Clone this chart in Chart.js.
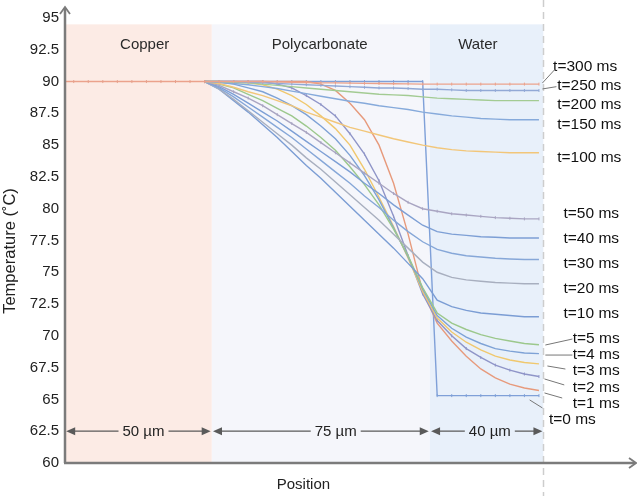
<!DOCTYPE html>
<html>
<head>
<meta charset="utf-8">
<script src="https://cdn.jsdelivr.net/npm/chart.js@4.4.1/dist/chart.umd.min.js"></script>
<style>
html, body { margin: 0; padding: 0; background: #fff; }
</style>
</head>
<body>
<canvas id="profile" width="637" height="496"></canvas>
<script>
// positions in µm (shared by every time step), copper part is flat
const positions = [45, 50, 55, 60, 65, 70, 75, 80, 85, 90, 95, 100, 105, 110, 115, 120, 125, 130, 135, 140, 145, 150, 155, 160];
const copperPositions = [-3, 0, 5, 10, 15, 20, 25, 30, 35, 40, 45];
const copperTemp = [90, 90, 90, 90, 90, 90, 90, 90, 90, 90, 90];

// temperature (°C)
const temp0ms   = [90, 90, 90, 90, 90, 90, 90, 90, 90, 90, 90, 90, 90, 90, 90, 90, 65.3, 65.3, 65.3, 65.3, 65.3, 65.3, 65.3, 65.3];
const temp1ms   = [90, 90, 90, 90, 90, 90, 90, 90, 89.8, 89.3, 88.3, 87.0, 85.0, 82.0, 78.0, 73.5, 71.0, 69.6, 68.4, 67.4, 66.7, 66.2, 65.9, 65.7];
const temp2ms   = [90, 90, 90, 90, 90, 89.8, 89.5, 88.9, 88.2, 87.3, 85.9, 84.3, 82.2, 79.4, 76.3, 73.3, 71.2, 70.0, 69.0, 68.3, 67.7, 67.3, 67.0, 66.8];
const temp3ms   = [90, 90, 89.95, 89.9, 89.75, 89.4, 88.9, 88.2, 87.3, 86.3, 85.0, 83.1, 80.9, 78.6, 76.1, 73.5, 71.4, 70.3, 69.5, 68.9, 68.4, 68.1, 67.9, 67.8];
const temp4ms   = [90, 89.95, 89.8, 89.5, 89.2, 88.7, 88.1, 87.4, 86.5, 85.5, 84.2, 82.6, 80.7, 78.5, 76.2, 73.7, 71.6, 70.6, 69.9, 69.4, 69.0, 68.8, 68.65, 68.6];
const temp5ms   = [90, 89.8, 89.5, 89.0, 88.5, 87.9, 87.3, 86.5, 85.6, 84.6, 83.3, 81.9, 80.3, 78.4, 76.3, 73.8, 71.8, 71.0, 70.5, 70.1, 69.8, 69.6, 69.4, 69.3];
const temp10ms  = [90, 89.4, 88.5, 87.6, 86.6, 85.6, 84.5, 83.4, 82.4, 81.3, 80.2, 79.1, 78.0, 76.9, 75.7, 74.5, 72.8, 72.3, 72.0, 71.8, 71.7, 71.6, 71.5, 71.5];
const temp20ms  = [90, 89.4, 88.6, 87.7, 86.8, 85.9, 85.0, 84.0, 83.1, 82.1, 81.1, 80.1, 79.1, 78.0, 76.9, 75.8, 75.0, 74.6, 74.4, 74.3, 74.2, 74.15, 74.1, 74.1];
const temp30ms  = [90, 89.5, 88.8, 88.0, 87.2, 86.4, 85.6, 84.7, 83.8, 82.9, 82.0, 81.0, 80.1, 79.1, 78.2, 77.4, 76.8, 76.5, 76.3, 76.2, 76.1, 76.05, 76.0, 76.0];
const temp40ms  = [90, 89.6, 89.0, 88.3, 87.6, 86.9, 86.1, 85.3, 84.5, 83.7, 82.9, 82.0, 81.2, 80.3, 79.5, 78.7, 78.2, 78.0, 77.9, 77.8, 77.75, 77.7, 77.7, 77.7];
const temp50ms  = [90, 89.7, 89.2, 88.7, 88.1, 87.4, 86.7, 86.0, 85.2, 84.4, 83.6, 82.8, 82.0, 81.2, 80.5, 80.0, 79.8, 79.6, 79.5, 79.4, 79.3, 79.25, 79.2, 79.2];
const temp100ms = [90, 89.85, 89.55, 89.2, 88.9, 88.5, 88.1, 87.6, 87.2, 86.8, 86.4, 86.1, 85.8, 85.5, 85.25, 85.0, 84.8, 84.65, 84.55, 84.5, 84.45, 84.4, 84.4, 84.4];
const temp150ms = [90, 89.95, 89.85, 89.75, 89.6, 89.45, 89.25, 89.05, 88.85, 88.65, 88.45, 88.3, 88.1, 87.95, 87.8, 87.6, 87.45, 87.3, 87.2, 87.1, 87.05, 87.0, 87.0, 87.0];
const temp200ms = [90, 90, 89.95, 89.9, 89.8, 89.7, 89.6, 89.5, 89.4, 89.3, 89.2, 89.1, 89.0, 88.95, 88.9, 88.8, 88.7, 88.65, 88.6, 88.55, 88.5, 88.5, 88.5, 88.5];
const temp250ms = [90, 90, 90, 89.95, 89.9, 89.85, 89.8, 89.75, 89.7, 89.65, 89.6, 89.55, 89.5, 89.5, 89.45, 89.4, 89.4, 89.35, 89.3, 89.3, 89.3, 89.3, 89.3, 89.3];
const temp300ms = [90, 90, 90, 90, 90, 89.98, 89.95, 89.93, 89.9, 89.9, 89.88, 89.86, 89.85, 89.83, 89.82, 89.8, 89.8, 89.8, 89.8, 89.8, 89.8, 89.8, 89.8, 89.8];

const timeLabels = ['t=300 ms', 't=250 ms', 't=200 ms', 't=150 ms', 't=100 ms', 't=50 ms', 't=40 ms', 't=30 ms',
    't=20 ms', 't=10 ms', 't=5 ms', 't=4 ms', 't=3 ms', 't=2 ms', 't=1 ms', 't=0 ms'];
const yTicks = [60, 62.5, 65, 67.5, 70, 72.5, 75, 77.5, 80, 82.5, 85, 87.5, 90, 92.5, 95];

const regionNames = ['Copper', 'Polycarbonate', 'Water'];
const regionStart = [-3, 47.5, 122.5];
const regionEnd = [47.5, 122.5, 161.5];
const dimLabels = ['50 µm', '75 µm', '40 µm'];

// layout of the annotations (data units)
const regionLabelX = [24.4, 84.6, 139];
const regionColors = ['#fcebe5', '#f5f6fb', '#e8f0fa'];
const dimStart = [-2.6, 47.9, 122.9];
const dimEnd = [47.1, 122.1, 161.2];
const dimLabelX = [24, 90.1, 143.1];
const labelX = [175.9, 177.3, 177.3, 177.3, 177.3, 178, 178, 178, 178, 178, 179.7, 179.7, 179.7, 179.7, 179.7, 171.5];
const labelY = [91.17, 89.68, 88.16, 86.58, 84.04, 79.58, 77.62, 75.65, 73.68, 71.77, 69.81, 68.5, 67.26, 65.96, 64.64, 63.38];
const leaders = {
    't=300 ms': [161.2, 89.89, 165.3, 90.91],
    't=250 ms': [161.2, 89.42, 166.0, 89.6],
    't=5 ms': [162.2, 69.28, 171.5, 69.75],
    't=4 ms': [162.2, 68.49, 171.5, 68.49],
    't=3 ms': [162.9, 67.63, 169.1, 67.39],
    't=2 ms': [161.9, 66.61, 168.7, 66.14],
    't=1 ms': [161.9, 65.51, 168.0, 65.11],
    't=0 ms': [156.8, 64.96, 161.2, 64.33],
};

const FONT = "'Liberation Sans', Arial, sans-serif";

const series = [
    {values: temp300ms, color: '#eba28c', marks: true},
    {values: temp250ms, color: '#92a9d6', marks: true},
    {values: temp200ms, color: '#a3cb93'},
    {values: temp150ms, color: '#86aadb'},
    {values: temp100ms, color: '#f2c679'},
    {values: temp50ms, color: '#a9a5c2', marks: true},
    {values: temp40ms, color: '#7d9fd5'},
    {values: temp30ms, color: '#86a7d8'},
    {values: temp20ms, color: '#a8afbf'},
    {values: temp10ms, color: '#7b9dd4'},
    {values: temp5ms, color: '#9cc88c'},
    {values: temp4ms, color: '#7ea2d6'},
    {values: temp3ms, color: '#f0c86e'},
    {values: temp2ms, color: '#8f95c8', marks: true},
    {values: temp1ms, color: '#e79a7c'},
    {values: temp0ms, color: '#7fa0d8', marks: true},
];

const datasets = series.map((s, i) => ({
    label: timeLabels[i],
    data: positions.map((p, k) => ({x: p, y: s.values[k]})),
    borderColor: s.color,
    borderWidth: 1.4,
    pointRadius: s.marks ? 1.5 : 0,
    pointStyle: 'line',
    rotation: 90,
    pointBorderColor: s.color,
    pointBorderWidth: 1,
    tension: 0,
}));
datasets.unshift({
    label: 'copper',
    data: copperPositions.map((p, k) => ({x: p, y: copperTemp[k]})),
    borderColor: '#eba28c',
    borderWidth: 1.4,
    pointRadius: 1.5,
    pointStyle: 'line',
    rotation: 90,
    pointBorderColor: '#e6a08c',
    pointBorderWidth: 1,
});

function arrowHead(ctx, x, y, dx, dy, len, half) {
    ctx.beginPath();
    ctx.moveTo(x, y);
    ctx.lineTo(x - dx * len - dy * half, y - dy * len + dx * half);
    ctx.lineTo(x - dx * len + dy * half, y - dy * len - dx * half);
    ctx.closePath();
    ctx.fill();
}

const decorations = {
    id: 'decorations',
    beforeDatasetsDraw(chart) {
        const {ctx, scales: {x, y}} = chart;
        ctx.save();
        const top = y.getPixelForValue(94.5);
        regionNames.forEach((name, i) => {
            const x0 = x.getPixelForValue(regionStart[i]);
            const x1 = x.getPixelForValue(regionEnd[i]);
            ctx.fillStyle = regionColors[i];
            ctx.fillRect(x0, top, x1 - x0, y.bottom - top);
        });
        const dx = Math.round(x.getPixelForValue(161.5)) + 0.5;
        ctx.strokeStyle = '#cdcdcd';
        ctx.lineWidth = 1.5;
        ctx.setLineDash([7, 5]);
        ctx.beginPath();
        ctx.moveTo(dx, 0);
        ctx.lineTo(dx, chart.height);
        ctx.stroke();
        ctx.restore();
    },
    afterDatasetsDraw(chart) {
        const {ctx, scales: {x, y}} = chart;
        ctx.save();

        // axes with open arrows
        const ax = x.getPixelForValue(-3), ay = y.getPixelForValue(60);
        ctx.strokeStyle = '#7b7b7b';
        ctx.lineWidth = 2.5;
        ctx.beginPath();
        ctx.moveTo(ax, ay);
        ctx.lineTo(ax, 8);
        ctx.moveTo(ax - 1, ay);
        ctx.lineTo(chart.width - 2, ay);
        ctx.stroke();
        ctx.lineWidth = 1.8;
        ctx.beginPath();
        ctx.moveTo(ax - 5, 14);
        ctx.lineTo(ax, 7);
        ctx.lineTo(ax + 5, 14);
        ctx.moveTo(chart.width - 8, ay - 5);
        ctx.lineTo(chart.width - 1, ay);
        ctx.lineTo(chart.width - 8, ay + 5);
        ctx.stroke();

        // region names
        ctx.fillStyle = '#2a2a2a';
        ctx.font = '15px ' + FONT;
        ctx.textAlign = 'center';
        ctx.textBaseline = 'middle';
        regionNames.forEach((name, i) => {
            ctx.fillText(name, x.getPixelForValue(regionLabelX[i]), y.getPixelForValue(92.88));
        });

        // thickness dimensions
        const dy = y.getPixelForValue(62.5);
        ctx.strokeStyle = '#5a5a5a';
        ctx.fillStyle = '#5a5a5a';
        ctx.lineWidth = 1.3;
        dimLabels.forEach((txt, i) => {
            const a = x.getPixelForValue(dimStart[i]);
            const b = x.getPixelForValue(dimEnd[i]);
            const c = x.getPixelForValue(dimLabelX[i]);
            const w = ctx.measureText(txt).width / 2 + 4;
            ctx.beginPath();
            ctx.moveTo(a + 4, dy);
            ctx.lineTo(c - w, dy);
            ctx.moveTo(c + w, dy);
            ctx.lineTo(b - 4, dy);
            ctx.stroke();
            arrowHead(ctx, a, dy, -1, 0, 9, 4);
            arrowHead(ctx, b, dy, 1, 0, 9, 4);
        });
        ctx.fillStyle = '#222';
        dimLabels.forEach((txt, i) => {
            ctx.fillText(txt, x.getPixelForValue(dimLabelX[i]), dy + 1);
        });

        // time labels and leader lines
        ctx.strokeStyle = '#777';
        ctx.lineWidth = 1;
        Object.keys(leaders).forEach(k => {
            const l = leaders[k];
            ctx.beginPath();
            ctx.moveTo(x.getPixelForValue(l[0]), y.getPixelForValue(l[1]));
            ctx.lineTo(x.getPixelForValue(l[2]), y.getPixelForValue(l[3]));
            ctx.stroke();
        });
        ctx.fillStyle = '#111';
        ctx.font = '15.5px ' + FONT;
        timeLabels.forEach((txt, i) => {
            ctx.fillText(txt, x.getPixelForValue(labelX[i]), y.getPixelForValue(labelY[i]));
        });

        // axis titles
        ctx.fillStyle = '#222';
        ctx.font = '15px ' + FONT;
        ctx.fillText('Position', x.getPixelForValue(79), 485);
        ctx.translate(10, 251);
        ctx.rotate(-Math.PI / 2);
        ctx.font = '16.5px ' + FONT;
        ctx.fillText('Temperature (˚C)', 0, 0);
        ctx.restore();
    }
};

new Chart(document.getElementById('profile'), {
    type: 'line',
    data: {datasets: datasets},
    options: {
        responsive: false,
        animation: false,
        devicePixelRatio: 1,
        layout: {padding: {top: 18, right: 2, left: 0, bottom: 0}},
        plugins: {legend: {display: false}, tooltip: {enabled: false}},
        scales: {
            x: {
                type: 'linear',
                min: -3,
                max: 192,
                grid: {display: false},
                border: {display: false},
                ticks: {display: false},
                afterFit: s => { s.height = 33; },
            },
            y: {
                min: 60,
                max: 95,
                afterBuildTicks: s => { s.ticks = yTicks.map(v => ({value: v})); },
                grid: {display: false, drawTicks: false},
                border: {display: false},
                ticks: {color: '#222', padding: 6, font: {size: 15, family: FONT}},
                afterFit: s => { s.width = 65; },
            }
        }
    },
    plugins: [decorations]
});
</script>
</body>
</html>
